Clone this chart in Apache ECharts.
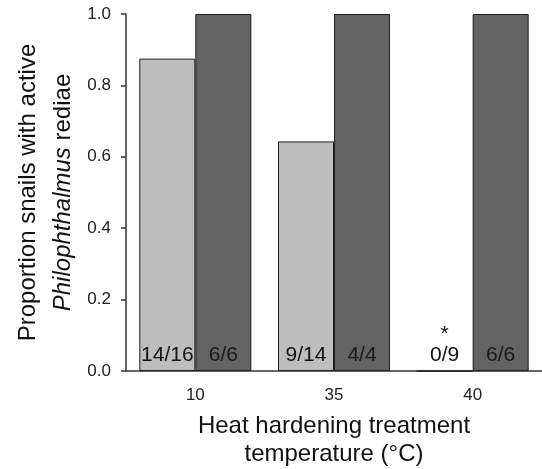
<!DOCTYPE html>
<html>
<head>
<meta charset="utf-8">
<script src="https://cdn.jsdelivr.net/npm/echarts@6/dist/echarts.min.js"></script>
<style>
  html, body { margin: 0; padding: 0; background: #fff; }
  #main { width: 542px; height: 469px; }
</style>
</head>
<body>
<div id="main"></div>
<script>
// 数据
var categories = ['10', '35', '40'];
var controlValues = [0.875, 0.643, 0];      // light bars
var hardenedValues = [1.0, 1.0, 1.0];       // dark bars
var controlCounts = ['14/16', '9/14', '0/9'];
var hardenedCounts = ['6/6', '4/4', '6/6'];
var controlSig = ['', '', '*'];
var yTicks = [0, 0.2, 0.4, 0.6, 0.8, 1.0];

var myChart = echarts.init(document.getElementById('main'));

var font = 'Liberation Sans, Arial, sans-serif';

var option = {
  animation: false,
  grid: { left: 126, right: 0, top: 14, bottom: 98, outerBoundsMode: 'none', containLabel: false },
  xAxis: {
    type: 'category',
    data: categories,
    axisLine: { lineStyle: { color: '#333', width: 1.5 } },
    axisTick: { alignWithLabel: true, length: 6, lineStyle: { color: '#333', width: 1.5 } },
    axisLabel: { color: '#222', fontSize: 17, fontFamily: font, margin: 16 },
    name: 'Heat hardening treatment\ntemperature (°C)',
    nameLocation: 'middle',
    nameGap: 41,
    nameTextStyle: { color: '#111', fontSize: 24, fontFamily: font, lineHeight: 28 }
  },
  yAxis: {
    type: 'value',
    min: 0,
    max: 1,
    interval: 0.2,
    splitLine: { show: false },
    axisLine: { show: true, lineStyle: { color: '#333', width: 1.5 } },
    axisTick: { show: true, length: 5, lineStyle: { color: '#333', width: 1.5 } },
    axisLabel: {
      color: '#222', fontSize: 17, fontFamily: font, margin: 15,
      formatter: function (v) { return yTicks.indexOf(v) >= 0 ? v.toFixed(1) : ''; }
    },
    name: '{a|Proportion snails with active}\n{i|Philophthalmus}{a| rediae}',
    nameLocation: 'middle',
    nameGap: 45,
    nameTextStyle: {
      rich: {
        a: { color: '#111', fontSize: 24, fontFamily: font, lineHeight: 35 },
        i: { color: '#111', fontSize: 24, fontFamily: font, fontStyle: 'italic', lineHeight: 35 }
      }
    }
  },
  series: [
    {
      type: 'bar',
      data: controlValues,
      barWidth: 56,
      barGap: '0%',
      itemStyle: { color: '#bdbdbd', borderColor: '#1e1e1e', borderWidth: 1 },
      label: {
        show: true,
        position: 'insideBottom',
        distance: 4,
        formatter: function (p) {
          var s = controlSig[p.dataIndex];
          return (s ? '{s|' + s + '}\n' : '') + '{t|' + controlCounts[p.dataIndex] + '}';
        },
        rich: {
          t: { color: '#111', fontSize: 21, fontFamily: font, lineHeight: 24 },
          s: { color: '#111', fontSize: 21, fontFamily: font, lineHeight: 18 }
        }
      }
    },
    {
      type: 'bar',
      data: hardenedValues,
      barWidth: 56,
      barGap: '0%',
      itemStyle: { color: '#636363', borderColor: '#1e1e1e', borderWidth: 1 },
      label: {
        show: true,
        position: 'insideBottom',
        distance: 4,
        color: '#1a1a1a',
        fontSize: 21,
        fontFamily: font,
        lineHeight: 24,
        formatter: function (p) { return hardenedCounts[p.dataIndex]; }
      }
    }
  ]
};

myChart.setOption(option);
</script>
</body>
</html>
